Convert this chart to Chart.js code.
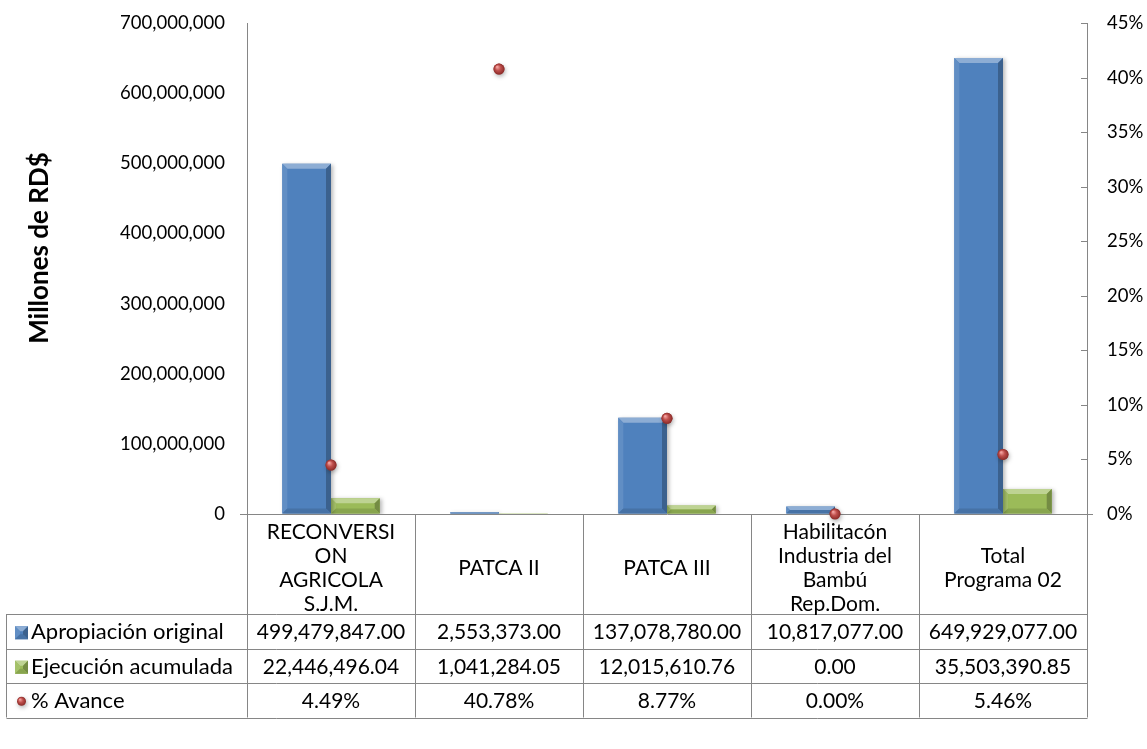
<!DOCTYPE html>
<html>
<head>
<meta charset="utf-8">
<script src="https://cdn.jsdelivr.net/npm/chart.js@4.4.1/dist/chart.umd.min.js"></script>
<style>
  html, body { margin: 0; padding: 0; background: #ffffff; }
  #wrap { width: 1147px; height: 749px; }
</style>
</head>
<body>
<div id="wrap"><canvas id="c" width="1147" height="749"></canvas></div>
<script>
// ---------- data ----------
const categories = [
  ["RECONVERSI", "ON", "AGRICOLA", "S.J.M."],
  ["PATCA II"],
  ["PATCA III"],
  ["Habilitacón", "Industria del", "Bambú", "Rep.Dom."],
  ["Total", "Programa 02"]
];
const apropiacion = [499479847.00, 2553373.00, 137078780.00, 10817077.00, 649929077.00];
const ejecucion = [22446496.04, 1041284.05, 12015610.76, 0.00, 35503390.85];
const avance = [4.49, 40.78, 8.77, 0.00, 5.46];
const seriesNames = ["Apropiación original", "Ejecución acumulada", "% Avance"];
const leftTicks = [0, 100000000, 200000000, 300000000, 400000000, 500000000, 600000000, 700000000];
const rightTicks = [0, 5, 10, 15, 20, 25, 30, 35, 40, 45];
const yTitle = "Millones de RD$";

// ---------- styles ----------
const FONT = "Lato, 'Open Sans', sans-serif";
const BLUE = '#4F81BD', GREEN = '#9BBB59', RED = '#C0504D';
const AXIS = '#868686';
const TABLE_FONT = 21;
const fmtMoney = v => v.toLocaleString('en-US', {minimumFractionDigits: 2, maximumFractionDigits: 2});
const fmtInt = v => v.toLocaleString('en-US');

function shade(hex, amt) {
  const n = parseInt(hex.slice(1), 16);
  let r = (n >> 16) & 255, g = (n >> 8) & 255, b = n & 255;
  const f = c => Math.max(0, Math.min(255, Math.round(amt >= 0 ? c + (255 - c) * amt : c * (1 + amt))));
  return `rgb(${f(r)},${f(g)},${f(b)})`;
}

function drawBevelRect(ctx, left, top, right, bottom, color) {
  const w = right - left, h = bottom - top;
  if (h <= 0 || w <= 0) return;
  const b = Math.min(5, h / 2, w / 2);
  ctx.save();
  ctx.fillStyle = shade(color, 0.35);
  ctx.beginPath();
  ctx.moveTo(left, top); ctx.lineTo(right, top); ctx.lineTo(right - b, top + b); ctx.lineTo(left + b, top + b); ctx.closePath(); ctx.fill();
  ctx.fillStyle = shade(color, 0.1);
  ctx.beginPath();
  ctx.moveTo(left, top); ctx.lineTo(left + b, top + b); ctx.lineTo(left + b, bottom - b); ctx.lineTo(left, bottom); ctx.closePath(); ctx.fill();
  ctx.fillStyle = shade(color, -0.25);
  ctx.beginPath();
  ctx.moveTo(right, top); ctx.lineTo(right, bottom); ctx.lineTo(right - b, bottom - b); ctx.lineTo(right - b, top + b); ctx.closePath(); ctx.fill();
  ctx.fillStyle = shade(color, -0.12);
  ctx.beginPath();
  ctx.moveTo(left, bottom); ctx.lineTo(left + b, bottom - b); ctx.lineTo(right - b, bottom - b); ctx.lineTo(right, bottom); ctx.closePath(); ctx.fill();
  ctx.restore();
}

function drawSphere(ctx, x, y, r) {
  ctx.save();
  ctx.shadowColor = 'rgba(0,0,0,0.3)';
  ctx.shadowBlur = 4; ctx.shadowOffsetX = 1; ctx.shadowOffsetY = 2;
  const g = ctx.createRadialGradient(x - r * 0.35, y - r * 0.4, r * 0.1, x, y, r);
  g.addColorStop(0, '#F2A09D');
  g.addColorStop(0.45, RED);
  g.addColorStop(1, '#8A2A27');
  ctx.fillStyle = g;
  ctx.beginPath(); ctx.arc(x, y, r, 0, Math.PI * 2); ctx.fill();
  ctx.restore();
}

const decorPlugin = {
  id: 'decor',
  beforeDatasetDraw(chart, args) {
    if (args.meta.type === 'bar') {
      const ctx = chart.ctx;
      ctx.save();
      ctx.shadowColor = 'rgba(0,0,0,0.28)';
      ctx.shadowBlur = 4; ctx.shadowOffsetX = 2; ctx.shadowOffsetY = 1;
    }
  },
  afterDatasetDraw(chart, args) {
    const ctx = chart.ctx;
    if (args.meta.type === 'bar') {
      ctx.restore();
      const ds = chart.data.datasets[args.index];
      args.meta.data.forEach(el => {
        const p = el.getProps(['x', 'y', 'base', 'width'], true);
        drawBevelRect(ctx, p.x - p.width / 2, Math.min(p.y, p.base), p.x + p.width / 2, Math.max(p.y, p.base), ds.backgroundColor);
      });
    } else if (args.meta.type === 'line') {
      args.meta.data.forEach(el => {
        const p = el.getProps(['x', 'y'], true);
        drawSphere(ctx, p.x, p.y, 5.5);
      });
    }
  },
  afterDraw(chart) {
    const ctx = chart.ctx;
    const ca = chart.chartArea;
    const xs = chart.scales.x;
    const y1 = chart.scales.y1;
    const n = categories.length;
    const half = (ca.right - ca.left) / n / 2;

    ctx.save();
    // y axis title
    ctx.save();
    ctx.translate(40, 248);
    ctx.rotate(-Math.PI / 2);
    ctx.fillStyle = '#000';
    ctx.font = `bold 26px ${FONT}`;
    ctx.textAlign = 'center';
    ctx.textBaseline = 'middle';
    ctx.fillText(yTitle, 0, 0);
    ctx.restore();

    // right axis inner tick marks + 0 cross, x-axis extension to the left
    ctx.strokeStyle = AXIS; ctx.lineWidth = 1;
    y1.ticks.forEach(t => {
      const yy = Math.round(y1.getPixelForValue(t.value)) + 0.5;
      ctx.beginPath(); ctx.moveTo(ca.right - 6, yy); ctx.lineTo(ca.right, yy); ctx.stroke();
    });
    const yb = Math.round(ca.bottom) + 0.5;
    ctx.beginPath(); ctx.moveTo(ca.right, yb); ctx.lineTo(ca.right + 6, yb); ctx.stroke();
    ctx.beginPath(); ctx.moveTo(ca.left - 7, yb); ctx.lineTo(ca.left, yb); ctx.stroke();

    // table
    const tableLeft = 6.5;
    const headBottom = ca.bottom + 100;
    const rowH = 34.5;
    const tableBottom = headBottom + rowH * 3;
    for (let i = 0; i <= n; i++) {
      const xx = Math.round(i < n ? xs.getPixelForValue(i) - half : xs.getPixelForValue(n - 1) + half) + 0.5;
      ctx.beginPath(); ctx.moveTo(xx, ca.bottom); ctx.lineTo(xx, tableBottom); ctx.stroke();
    }
    ctx.beginPath(); ctx.moveTo(tableLeft, headBottom); ctx.lineTo(tableLeft, tableBottom); ctx.stroke();
    for (let r = 0; r <= 3; r++) {
      const yy = Math.round(headBottom + r * rowH) + 0.5;
      ctx.beginPath(); ctx.moveTo(tableLeft, yy); ctx.lineTo(ca.right + 0.5, yy); ctx.stroke();
    }

    // category labels
    ctx.fillStyle = '#000';
    ctx.font = `${TABLE_FONT}px ${FONT}`;
    ctx.textAlign = 'center';
    ctx.textBaseline = 'middle';
    const lh = 24;
    categories.forEach((lines, i) => {
      const cx = xs.getPixelForValue(i);
      const cy = (ca.bottom + headBottom) / 2 + 4;
      const start = cy - (lines.length - 1) * lh / 2;
      lines.forEach((t, k) => ctx.fillText(t, cx, start + k * lh));
    });

    // data rows
    const rows = [
      apropiacion.map(fmtMoney),
      ejecucion.map(fmtMoney),
      avance.map(v => v.toFixed(2) + '%')
    ];
    rows.forEach((vals, r) => {
      const cy = headBottom + r * rowH + rowH / 2 + 1;
      vals.forEach((t, i) => ctx.fillText(t, xs.getPixelForValue(i), cy));
    });

    // legend column
    ctx.textAlign = 'left';
    ctx.font = `22px ${FONT}`;
    const keyColors = [BLUE, GREEN];
    seriesNames.forEach((name, r) => {
      const cy = headBottom + r * rowH + rowH / 2 + 1;
      if (r < 2) {
        ctx.fillStyle = keyColors[r];
        ctx.fillRect(15, cy - 6, 13, 13);
        drawBevelRect(ctx, 15, cy - 6, 28, cy + 7, keyColors[r]);
      } else {
        drawSphere(ctx, 21.5, cy, 4.5);
      }
      ctx.fillStyle = '#000';
      ctx.fillText(name, 31, cy);
    });
    ctx.restore();
  }
};

function zeroPad(s) { s.paddingTop = 0; s.paddingBottom = 0; }

const ctx = document.getElementById('c').getContext('2d');
new Chart(ctx, {
  type: 'bar',
  data: {
    labels: categories.map(l => l.join(' ')),
    datasets: [
      { type: 'bar', label: seriesNames[0], data: apropiacion, backgroundColor: BLUE, yAxisID: 'y',
        categoryPercentage: 0.58, barPercentage: 1.0, order: 2 },
      { type: 'bar', label: seriesNames[1], data: ejecucion, backgroundColor: GREEN, yAxisID: 'y',
        categoryPercentage: 0.58, barPercentage: 1.0, order: 2 },
      { type: 'line', label: seriesNames[2], data: avance, yAxisID: 'y1', showLine: false,
        pointRadius: 5.5, pointBackgroundColor: RED, pointBorderWidth: 0, order: 0 }
    ]
  },
  options: {
    responsive: false,
    animation: false,
    devicePixelRatio: 1,
    layout: { padding: { top: 23, bottom: 235, left: 0, right: 0 } },
    plugins: { legend: { display: false }, tooltip: { enabled: false } },
    scales: {
      x: {
        grid: { display: false },
        ticks: { display: false },
        border: { color: AXIS, width: 1 },
        afterFit: s => { s.height = 0; s.paddingLeft = 0; s.paddingRight = 0; }
      },
      y: {
        position: 'left',
        min: 0, max: 700000000,
        afterBuildTicks: s => { s.ticks = leftTicks.map(v => ({ value: v })); },
        ticks: { color: '#000', font: { family: FONT, size: 18.5 }, padding: 22, callback: v => fmtInt(v) },
        grid: { display: true, drawOnChartArea: false, drawTicks: false },
        border: { color: AXIS, width: 1 },
        afterFit: s => { s.width = 247; zeroPad(s); }
      },
      y1: {
        position: 'right',
        min: 0, max: 45,
        afterBuildTicks: s => { s.ticks = rightTicks.map(v => ({ value: v })); },
        ticks: { color: '#000', font: { family: FONT, size: 18.5 }, padding: 20, callback: v => v + '%' },
        grid: { display: true, drawOnChartArea: false, drawTicks: false },
        border: { color: AXIS, width: 1 },
        afterFit: s => { s.width = 60; zeroPad(s); }
      }
    }
  },
  plugins: [decorPlugin]
});
</script>
</body>
</html>
